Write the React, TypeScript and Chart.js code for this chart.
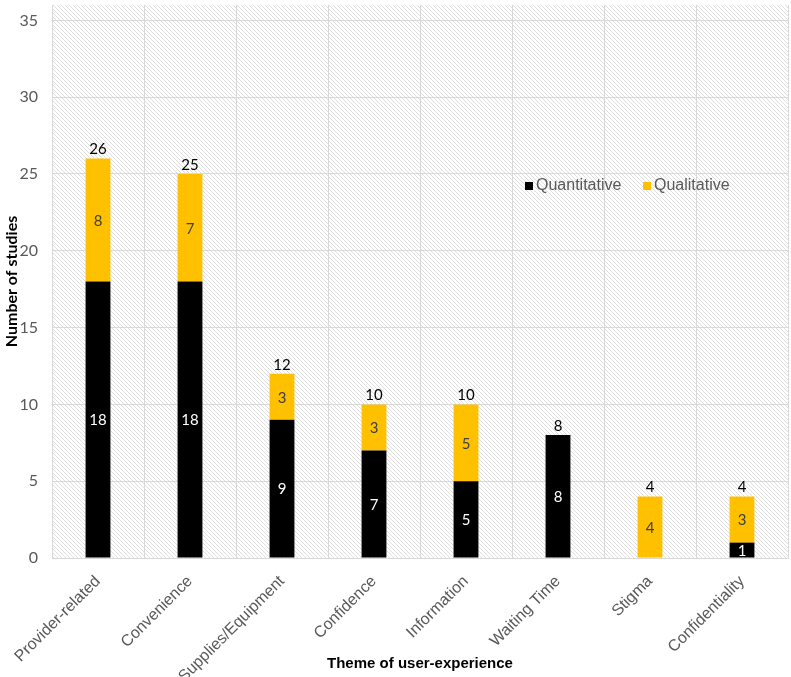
import React, { useEffect, useRef } from "react";
import { Chart, registerables } from "chart.js";
Chart.register(...registerables);

const categories = ["Provider-related", "Convenience", "Supplies/Equipment", "Confidence", "Information", "Waiting Time", "Stigma", "Confidentiality"];
const quantitative = [18, 18, 9, 7, 5, 8, 0, 1];
const qualitative = [8, 7, 3, 3, 5, 0, 4, 3];
const totals = [26, 25, 12, 10, 10, 8, 4, 4];
const yTicks = [0, 5, 10, 15, 20, 25, 30, 35];

const BLACK = "#000000";
const YELLOW = "#FFC000";
const ARIAL = "'Liberation Sans', Arial, sans-serif";
const CALIBRI = "Lato, 'Open Sans', sans-serif";

function makePattern(ctx: CanvasRenderingContext2D) {
  const n = 4;
  const c = document.createElement("canvas");
  c.width = n;
  c.height = n;
  const p = c.getContext("2d")!;
  p.fillStyle = "#ffffff";
  p.fillRect(0, 0, n, n);
  p.strokeStyle = "#dedede";
  p.lineWidth = 1;
  p.beginPath();
  for (let k = -n; k <= n; k += n) {
    p.moveTo(k - 1, -1);
    p.lineTo(k + n + 1, n + 1);
  }
  p.stroke();
  return ctx.createPattern(c, "repeat");
}

const bgPlugin = {
  id: "bgPattern",
  beforeDraw(chart: any) {
    const { ctx, chartArea } = chart;
    const pat = makePattern(ctx);
    ctx.save();
    ctx.fillStyle = pat as any;
    ctx.fillRect(chartArea.left, chartArea.top, chartArea.right - chartArea.left, chartArea.bottom - chartArea.top);
    ctx.restore();
  },
};

const labelPlugin = {
  id: "labels",
  afterDatasetsDraw(chart: any) {
    const { ctx } = chart;
    ctx.save();
    ctx.textAlign = "center";
    ctx.textBaseline = "middle";
    ctx.font = "15px " + CALIBRI;
    chart.data.datasets.forEach((ds: any, di: number) => {
      const meta = chart.getDatasetMeta(di);
      meta.data.forEach((bar: any, i: number) => {
        const v = ds.data[i];
        if (!v) return;
        const y = (bar.y + bar.base) / 2;
        ctx.fillStyle = di === 0 ? "#ffffff" : "#404040";
        ctx.fillText(String(v), bar.x, y + 1);
      });
    });
    const yScale = chart.scales.y;
    const meta0 = chart.getDatasetMeta(0);
    totals.forEach((t, i) => {
      const x = meta0.data[i].x;
      const y = yScale.getPixelForValue(t);
      ctx.fillStyle = "#000000";
      ctx.fillText(String(t), x, y - 9);
    });
    // legend
    const ly = 186;
    ctx.textAlign = "left";
    ctx.font = "16px " + ARIAL;
    ctx.fillStyle = BLACK;
    ctx.fillRect(525, ly - 4, 8, 8);
    ctx.fillStyle = "#595959";
    ctx.fillText("Quantitative", 536, ly);
    ctx.fillStyle = YELLOW;
    ctx.fillRect(643, ly - 4, 8, 8);
    ctx.fillStyle = "#595959";
    ctx.fillText("Qualitative", 654, ly);
    ctx.restore();
  },
};

export default function App() {
  const ref = useRef<HTMLCanvasElement>(null);
  useEffect(() => {
    const chart = new Chart(ref.current!, {
      type: "bar",
      data: {
        labels: categories,
        datasets: [
          { label: "Quantitative", data: quantitative, backgroundColor: BLACK, barPercentage: 0.27, categoryPercentage: 1 },
          { label: "Qualitative", data: qualitative, backgroundColor: YELLOW, barPercentage: 0.27, categoryPercentage: 1 },
        ],
      },
      options: {
        responsive: false,
        animation: false,
        layout: { padding: { top: 5, right: 3, left: 0, bottom: 0 } },
        plugins: { legend: { display: false }, tooltip: { enabled: false } },
        scales: {
          x: {
            stacked: true,
            grid: { color: "#d9d9d9", offset: true, drawTicks: false },
            border: { color: "#d9d9d9" },
            ticks: {
              maxRotation: 45,
              minRotation: 45,
              color: "#595959",
              font: { size: 16, family: ARIAL },
              padding: 14,
            },
            title: {
              display: true,
              text: "Theme of user-experience",
              color: "#000000",
              font: { size: 15, weight: "bold", family: ARIAL },
              padding: { top: 0, bottom: 4 },
            },
            afterFit(scale: any) {
              scale.height = 119;
            },
          },
          y: {
            stacked: true,
            min: 0,
            max: 36,
            afterBuildTicks(scale: any) {
              scale.ticks = yTicks.map((v) => ({ value: v }));
            },
            grid: { color: "#d9d9d9", drawTicks: false },
            border: { display: false },
            ticks: {
              color: "#595959",
              font: { size: 16, family: CALIBRI },
              padding: 14,
            },
            title: {
              display: true,
              text: "Number of studies",
              color: "#000000",
              font: { size: 16, weight: "bold", family: CALIBRI },
              padding: { top: 2, bottom: 0 },
            },
            afterFit(scale: any) {
              scale.width = 52;
              scale.paddingTop = 0;
              scale.paddingBottom = 0;
            },
          },
        },
      },
      plugins: [bgPlugin, labelPlugin],
    } as any);
    return () => chart.destroy();
  }, []);
  return (
    <div style={{ position: "absolute", left: 0, top: 0, width: 791, height: 677 }}>
      <canvas ref={ref} width={791} height={677} />
    </div>
  );
}
